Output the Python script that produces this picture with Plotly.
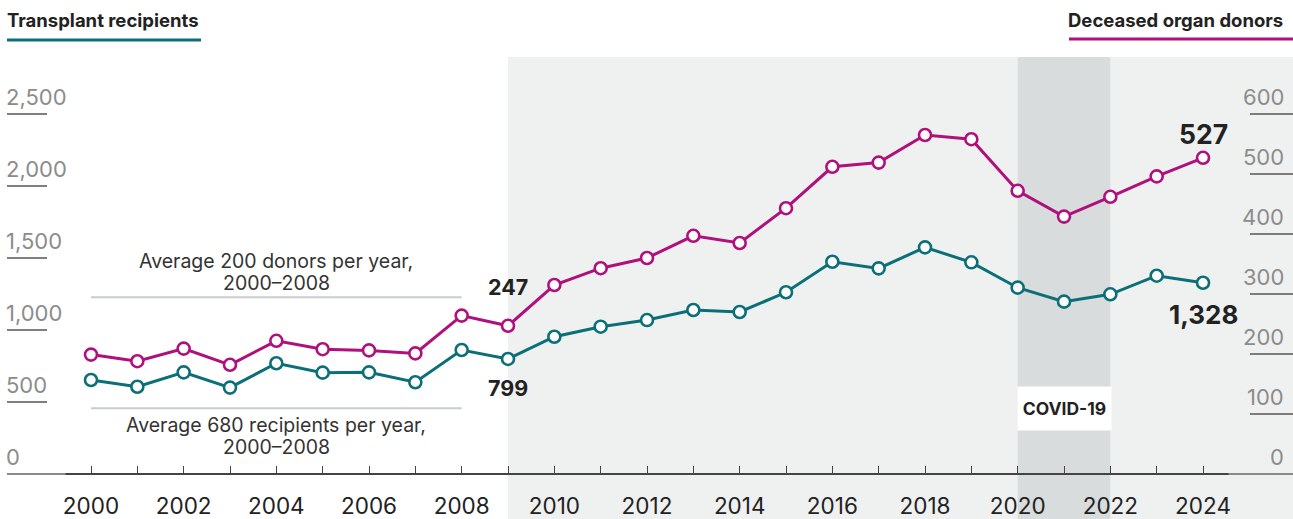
import plotly.graph_objects as go

# ---------------- data ----------------
years = list(range(2000, 2025))
recipients = [653, 606, 706, 600, 769, 704, 706, 637, 861, 799, 953, 1023, 1069, 1139,
              1125, 1262, 1474, 1428, 1574, 1470, 1294, 1197, 1248, 1377, 1328]
donors = [199, 188, 209, 182, 222, 208, 206, 201, 264, 247, 315, 343, 360, 397,
          385, 443, 512, 519, 565, 558, 472, 429, 462, 496, 527]
left_ticks = [0, 500, 1000, 1500, 2000, 2500]
right_ticks = [0, 100, 200, 300, 400, 500, 600]
xtick_labels = [str(y) if y % 2 == 0 else "" for y in years]

# ---------------- style ----------------
W, H = 1293, 519
B = 45
PH = H - B
TEAL = "#0b6f78"
MAG = "#b0107c"
FONT = "Inter"
X0, X1 = 1998.036, 2025.942
Y1 = 3291.7
Y2TOP = Y1 * 0.24


def xd(v):
    return (v - X0) / (X1 - X0)


def px(p):
    return p / W


def py(p):
    return (PH - p) / PH


fig = go.Figure()
fig.add_trace(go.Scatter(x=years, y=recipients, mode="lines+markers", yaxis="y",
                         line=dict(color=TEAL, width=3),
                         marker=dict(size=12, color="white", line=dict(color=TEAL, width=2.6)),
                         showlegend=False, hoverinfo="skip"))
fig.add_trace(go.Scatter(x=years, y=donors, mode="lines+markers", yaxis="y2",
                         line=dict(color=MAG, width=3),
                         marker=dict(size=12, color="white", line=dict(color=MAG, width=2.6)),
                         showlegend=False, hoverinfo="skip"))

shapes = []
# shaded periods
shapes.append(dict(type="rect", xref="x domain", yref="paper", x0=xd(2009), x1=1.0,
                   y0=py(H), y1=py(57), fillcolor="#eff1f0", line_width=0, layer="below"))
shapes.append(dict(type="rect", xref="x domain", yref="paper", x0=xd(2020), x1=xd(2022),
                   y0=py(H), y1=py(57), fillcolor="#d8dcdd", line_width=0, layer="below"))
# baseline
shapes.append(dict(type="line", xref="paper", yref="paper", x0=px(7), x1=1, y0=0, y1=0,
                   line=dict(color="#8a8a8a", width=2), layer="below"))
shapes.append(dict(type="line", xref="x domain", yref="paper", x0=xd(1999.45), x1=xd(2024.55),
                   y0=0, y1=0, line=dict(color="#444444", width=2), layer="above"))
# average brackets
for yv in (1227, 456):
    shapes.append(dict(type="line", xref="x", yref="y", x0=2000, x1=2008, y0=yv, y1=yv,
                       line=dict(color="#c6ccd0", width=2), layer="below"))
# tick underlines
for v in left_ticks[1:]:
    shapes.append(dict(type="line", xref="paper", yref="y", x0=px(7), x1=px(47), y0=v, y1=v,
                       line=dict(color="#555555", width=1.5)))
for v in right_ticks[1:]:
    shapes.append(dict(type="line", xref="paper", yref="y2", x0=px(1250), x1=1, y0=v, y1=v,
                       line=dict(color="#555555", width=1.5)))
# title underlines
shapes.append(dict(type="line", xref="paper", yref="paper", x0=px(7), x1=px(201),
                   y0=py(40), y1=py(40), line=dict(color=TEAL, width=3)))
shapes.append(dict(type="line", xref="paper", yref="paper", x0=px(1069), x1=1,
                   y0=py(39), y1=py(39), line=dict(color=MAG, width=3)))

ann = []
ann.append(dict(text="<b>Transplant recipients</b>", xref="paper", yref="paper", x=px(5), y=py(20),
                xanchor="left", yanchor="middle", showarrow=False,
                font=dict(family=FONT, size=18.5, color="#222222")))
ann.append(dict(text="<b>Deceased organ donors</b>", xref="paper", yref="paper", x=px(1285), y=py(20),
                xanchor="right", yanchor="middle", showarrow=False,
                font=dict(family=FONT, size=18.5, color="#222222")))
for v in left_ticks:
    ann.append(dict(text=f"{v:,}", xref="paper", yref="y", x=px(4), y=v, yshift=17,
                    xanchor="left", yanchor="middle", showarrow=False,
                    font=dict(family=FONT, size=22, color="#8c8c8c")))
for v in right_ticks:
    ann.append(dict(text=f"{v:,}", xref="paper", yref="y2", x=px(1286), y=v, yshift=17,
                    xanchor="right", yanchor="middle", showarrow=False,
                    font=dict(family=FONT, size=22, color="#8c8c8c")))
for txt, yv in (("Average 200 donors per year,", 1476), ("2000–2008", 1329),
                ("Average 680 recipients per year,", 342), ("2000–2008", 188)):
    ann.append(dict(text=txt, xref="x", yref="y", x=2004, y=yv, borderpad=0,
                    xanchor="center", yanchor="middle", showarrow=False,
                    font=dict(family=FONT, size=19.5, color="#333333")))
i09 = years.index(2009)
i24 = years.index(2024)
ann.append(dict(text=f"<b>{donors[i09]:,}</b>", xref="x", yref="y2", x=2009, y=donors[i09], yshift=39,
                xanchor="center", yanchor="middle", showarrow=False,
                font=dict(family=FONT, size=21.5, color="#222222")))
ann.append(dict(text=f"<b>{recipients[i09]:,}</b>", xref="x", yref="y", x=2009, y=recipients[i09], yshift=-29,
                xanchor="center", yanchor="middle", showarrow=False,
                font=dict(family=FONT, size=21.5, color="#222222")))
ann.append(dict(text=f"<b>{donors[i24]:,}</b>", xref="x", yref="y2", x=2024, y=donors[i24], yshift=24,
                xanchor="center", yanchor="middle", showarrow=False,
                font=dict(family=FONT, size=26.5, color="#222222")))
ann.append(dict(text=f"<b>{recipients[i24]:,}</b>", xref="x", yref="y", x=2024, y=recipients[i24], yshift=-32,
                xanchor="center", yanchor="middle", showarrow=False,
                font=dict(family=FONT, size=26, color="#222222")))
ann.append(dict(text="<b>COVID-19</b>", xref="x", yref="y", x=2021, y=458,
                xanchor="center", yanchor="middle", showarrow=False, bgcolor="white",
                width=93, height=43, borderpad=0,
                font=dict(family=FONT, size=17.5, color="#222222")))

fig.update_layout(
    width=W, height=H,
    margin=dict(l=0, r=0, t=0, b=B, autoexpand=False),
    paper_bgcolor="white", plot_bgcolor="white",
    xaxis=dict(range=[X0, X1], tickvals=years, ticktext=xtick_labels, ticks="inside",
               ticklen=8, tickwidth=1, tickcolor="#444444", showgrid=False, zeroline=False,
               showline=False, ticklabelstandoff=16, automargin=False,
               tickfont=dict(family=FONT, size=22.5, color="#222222")),
    yaxis=dict(range=[0, Y1], visible=False, automargin=False),
    yaxis2=dict(range=[0, Y2TOP], overlaying="y", side="right", visible=False, automargin=False),
    shapes=shapes,
    annotations=ann,
)

fig.write_html("out.html", config={"displayModeBar": False},
               post_script="document.body.style.margin='0';document.body.style.overflow='hidden';")
